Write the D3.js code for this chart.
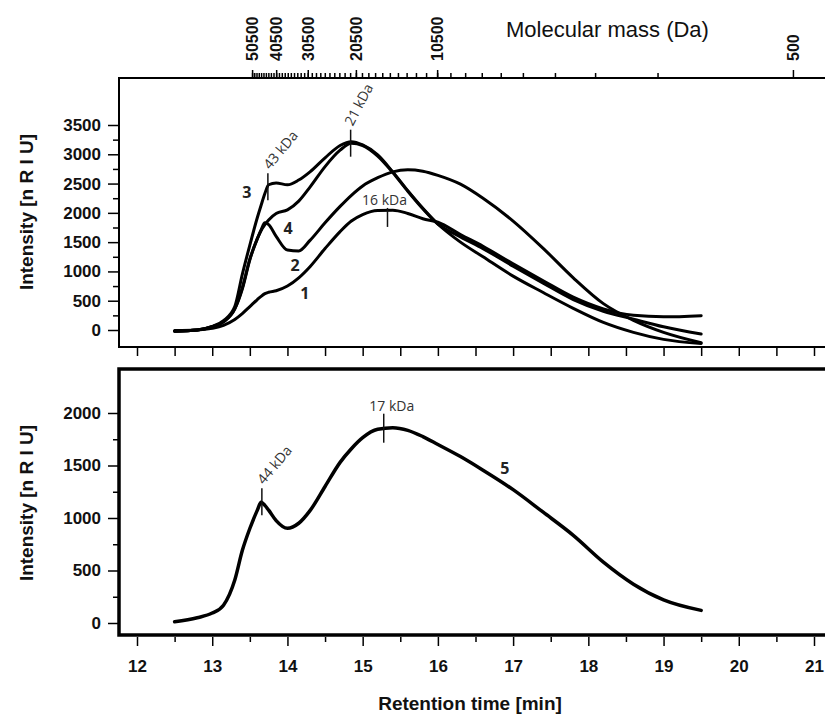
<!DOCTYPE html>
<html>
<head>
<meta charset="utf-8">
<script src="https://cdn.jsdelivr.net/npm/d3@7"></script>
<style>
  body { margin: 0; background: #fff; }
  svg { display: block; }
</style>
</head>
<body>
<svg id="chart" width="825" height="717"></svg>
<script>
// retention time grid (min) shared by all traces
const times  = [12.5, 12.8, 13.0, 13.15, 13.3, 13.4, 13.5, 13.6, 13.65, 13.7, 13.75, 13.85, 14.0, 14.15, 14.3, 14.5, 14.7, 14.85, 15.0, 15.2, 15.4, 15.6, 15.8, 16.0, 16.3, 16.6, 17.0, 17.4, 17.8, 18.2, 18.6, 19.0, 19.5];
// intensities [nRIU], upper panel
const curve1 = [-10, 0, 30, 80, 180, 280, 400, 520, 575, 620, 645, 670, 750, 890, 1080, 1390, 1680, 1860, 1970, 2040, 2045, 1990, 1900, 1840, 1630, 1430, 1130, 840, 560, 360, 250, 225, 245];
const curve2 = [-20, 0, 55, 140, 360, 700, 1200, 1560, 1710, 1830, 1800, 1600, 1365, 1350, 1530, 1830, 2110, 2300, 2460, 2600, 2700, 2735, 2710, 2640, 2490, 2250, 1860, 1394, 890, 450, 165, -40, -216];
const curve3 = [-20, 0, 60, 160, 400, 950, 1450, 1920, 2130, 2330, 2480, 2510, 2480, 2560, 2700, 2940, 3150, 3215, 3160, 2990, 2700, 2380, 2080, 1810, 1500, 1250, 920, 640, 370, 130, -40, -160, -230];
const curve4 = [-20, 0, 55, 140, 360, 720, 1210, 1560, 1700, 1800, 1880, 1990, 2050, 2200, 2440, 2790, 3070, 3190, 3150, 2970, 2690, 2370, 2070, 1810, 1590, 1390, 1090, 800, 520, 320, 185, 55, -70];
// lower panel
const curve5 = [12, 50, 95, 170, 410, 690, 900, 1075, 1150, 1120, 1075, 975, 902, 950, 1070, 1300, 1530, 1660, 1765, 1845, 1860, 1835, 1775, 1700, 1585, 1455, 1270, 1055, 835, 580, 370, 220, 120];

// calibration of the top axis: mass (Da) vs retention time (min)
const calMass = [50500, 40500, 30500, 20500, 10500, 5500, 3500, 2500, 500];
const calTime = [13.53, 13.85, 14.27, 14.91, 15.99, 17.13, 18.09, 18.92, 20.72];
const massLabels = [50500, 40500, 30500, 20500, 10500, 500];
const massMinor = d3.range(2500, 50501, 1000);

const upperTicks = d3.range(0, 3501, 500);
const upperMinor = d3.range(250, 3500, 500);
const lowerTicks = d3.range(0, 2001, 500);
const lowerMinor = d3.range(250, 2000, 500);
const timeTicks = d3.range(12, 21.01, 1);
const timeHalf = d3.range(12.5, 21.01, 1);

// peak marks
const upperMarks = [
  { t: 13.74, v: 2470, label: "43 kDa" },
  { t: 14.84, v: 3215, label: "21 kDa" },
  { t: 15.33, v: 2050, label: "16 kDa" }
];
const lowerMarks = [
  { t: 13.66, v: 1150, label: "44 kDa" },
  { t: 15.28, v: 1860, label: "17 kDa" }
];
const upperNames = [
  { name: "3", t: 13.46, v: 2360 },
  { name: "4", t: 14.01, v: 1735 },
  { name: "2", t: 14.10, v: 1110 },
  { name: "1", t: 14.23, v: 625 }
];
const lowerNames = [{ name: "5", t: 16.89, v: 1476 }];

const svg = d3.select("#chart");
const left = 119, right = 835;
const axisFont = "'Liberation Sans', Arial, sans-serif";
const noteFont = "'Open Sans', 'Noto Sans', sans-serif";

var x = d3.scaleLinear().domain([12, 21]).range([137, 814]);
var yU = d3.scaleLinear().domain([0, 3500]).range([330, 125]);
var yL = d3.scaleLinear().domain([0, 2000]).range([623, 413]);
var xMass = d3.scaleLog().domain(calMass).range(calTime.map(x));

var line = function (ys) {
  return d3.line()
    .x(function (d) { return x(d[0]); })
    .y(function (d) { return ys(d[1]); })
    .curve(d3.curveMonotoneX);
};

// ---- upper panel frame
svg.append("line").attr("x1", left).attr("x2", left).attr("y1", 78).attr("y2", 348)
  .attr("stroke", "#000").attr("stroke-width", 2);
svg.append("line").attr("x1", left - 1).attr("x2", right).attr("y1", 347).attr("y2", 347)
  .attr("stroke", "#000").attr("stroke-width", 2);
svg.append("line").attr("x1", left - 1).attr("x2", right).attr("y1", 78).attr("y2", 78)
  .attr("stroke", "#000").attr("stroke-width", 2);

// top molecular mass axis
var top1 = svg.append("g").attr("transform", "translate(0,77)")
  .call(d3.axisTop(xMass).tickValues(massMinor).tickSize(4).tickFormat(""));
var top2 = svg.append("g").attr("transform", "translate(0,77)")
  .call(d3.axisTop(xMass).tickValues(massLabels).tickSize(7).tickFormat(d3.format("d")));
[top1, top2].forEach(function (g) {
  g.select(".domain").remove();
  g.selectAll("line").attr("stroke-width", 1.5);
});
top2.selectAll("text")
  .attr("transform", "rotate(-90)")
  .attr("x", 16).attr("y", 0).attr("dy", "0.36em")
  .style("text-anchor", "start")
  .style("font-family", axisFont).style("font-weight", "bold").style("font-size", "16px")
  .attr("fill", "#111");
svg.append("text").attr("x", 506).attr("y", 37)
  .style("font-family", axisFont).style("font-size", "22px").attr("fill", "#111")
  .text("Molecular mass (Da)");

// upper bottom ticks
var ub = svg.append("g").attr("transform", "translate(0,348)")
  .call(d3.axisBottom(x).tickValues(d3.range(12, 21.51, 0.5)).tickSize(8).tickFormat(""));
ub.select(".domain").remove();
ub.selectAll("line").attr("stroke-width", 1.5);

// upper y axis
var ua = svg.append("g").attr("transform", "translate(" + left + ",0)")
  .call(d3.axisLeft(yU).tickValues(upperTicks).tickSize(11).tickPadding(7).tickFormat(d3.format("d")));
var um = svg.append("g").attr("transform", "translate(" + left + ",0)")
  .call(d3.axisLeft(yU).tickValues(upperMinor).tickSize(6).tickFormat(""));

// ---- lower panel frame
svg.append("rect").attr("x", left).attr("y", 369).attr("width", right - left + 20).attr("height", 266)
  .attr("fill", "none").attr("stroke", "#000").attr("stroke-width", 3.5);

var la = svg.append("g").attr("transform", "translate(" + (left - 1) + ",0)")
  .call(d3.axisLeft(yL).tickValues(lowerTicks).tickSize(10).tickPadding(7).tickFormat(d3.format("d")));
var lm = svg.append("g").attr("transform", "translate(" + (left - 1) + ",0)")
  .call(d3.axisLeft(yL).tickValues(lowerMinor).tickSize(5).tickFormat(""));

var lb = svg.append("g").attr("transform", "translate(0,637)")
  .call(d3.axisBottom(x).tickValues(timeTicks).tickSize(9).tickPadding(14).tickFormat(d3.format("d")));
var lh = svg.append("g").attr("transform", "translate(0,637)")
  .call(d3.axisBottom(x).tickValues(timeHalf).tickSize(5).tickFormat(""));

[ua, um, la, lm, lb, lh].forEach(function (g) {
  g.select(".domain").remove();
  g.selectAll("line").attr("stroke-width", 1.5);
  g.selectAll("text")
    .style("font-family", axisFont).style("font-weight", "bold").style("font-size", "17px")
    .attr("fill", "#111");
});

// axis titles
svg.append("text")
  .attr("transform", "translate(33,212) rotate(-90)")
  .style("text-anchor", "middle")
  .style("font-family", axisFont).style("font-weight", "bold").style("font-size", "19px")
  .attr("fill", "#111").text("Intensity [n R I U]");
svg.append("text")
  .attr("transform", "translate(33,503) rotate(-90)")
  .style("text-anchor", "middle")
  .style("font-family", axisFont).style("font-weight", "bold").style("font-size", "19px")
  .attr("fill", "#111").text("Intensity [n R I U]");
svg.append("text")
  .attr("x", 470).attr("y", 710)
  .style("text-anchor", "middle")
  .style("font-family", axisFont).style("font-weight", "bold").style("font-size", "19px")
  .attr("fill", "#111").text("Retention time [min]");

// ---- curves
var upperSeries = [curve1, curve2, curve3, curve4];
upperSeries.forEach(function (vals) {
  svg.append("path")
    .datum(times.map(function (t, i) { return [t, vals[i]]; }))
    .attr("fill", "none").attr("stroke", "#000").attr("stroke-width", 3)
    .attr("stroke-linejoin", "round").attr("stroke-linecap", "round")
    .attr("d", line(yU));
});
svg.append("path")
  .datum(times.map(function (t, i) { return [t, curve5[i]]; }))
  .attr("fill", "none").attr("stroke", "#000").attr("stroke-width", 3.5)
  .attr("stroke-linejoin", "round").attr("stroke-linecap", "round")
  .attr("d", line(yL));

// ---- peak marks
function drawMarks(marks, ys, styles) {
  marks.forEach(function (m, i) {
    var s = styles[i];
    var px = x(m.t), py = ys(m.v);
    svg.append("line")
      .attr("x1", px).attr("x2", px)
      .attr("y1", py + s.up).attr("y2", py + s.down)
      .attr("stroke", "#111").attr("stroke-width", 1.5);
    var t = svg.append("text")
      .style("font-family", noteFont).style("font-size", "14px").attr("fill", "#333")
      .text(m.label);
    if (s.rot) {
      t.attr("transform", "translate(" + (px + 2) + "," + (py + s.up - 3) + ") rotate(" + s.rot + ")");
    } else {
      t.attr("x", px + s.dx).attr("y", py + s.up - 3).style("text-anchor", "middle");
    }
  });
}
drawMarks(upperMarks, yU, [
  { up: -12, down: 15, rot: -50 },
  { up: -12, down: 15, rot: -62 },
  { up: -2, down: 17, dx: -3 }
]);
drawMarks(lowerMarks, yL, [
  { up: -14, down: 13, rot: -50 },
  { up: -14, down: 15, dx: 8 }
]);

// ---- curve numbers
function drawNames(names, ys) {
  names.forEach(function (n) {
    svg.append("text")
      .attr("x", x(n.t)).attr("y", ys(n.v)).attr("dy", "0.36em")
      .style("text-anchor", "middle")
      .style("font-family", noteFont).style("font-weight", "bold").style("font-size", "16px")
      .attr("fill", "#222").text(n.name);
  });
}
drawNames(upperNames, yU);
drawNames(lowerNames, yL);
</script>
</body>
</html>
